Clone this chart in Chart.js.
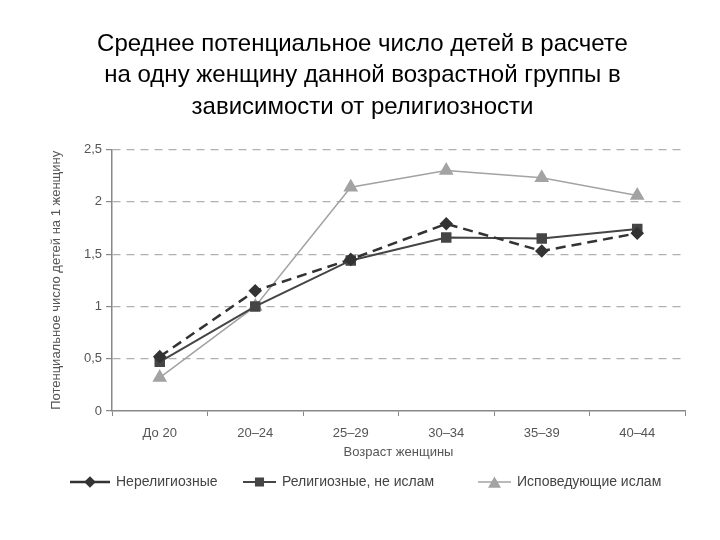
<!DOCTYPE html>
<html>
<head>
<meta charset="utf-8">
<script src="https://cdn.jsdelivr.net/npm/chart.js@4"></script>
<style>
    html, body { margin: 0; padding: 0; background: #fff; }
    #wrap { width: 720px; height: 540px; }
</style>
</head>
<body>
<div id="wrap"><canvas id="fertilityChart" width="720" height="540"></canvas></div>
<script>
const ageGroups = ["До 20", "20–24", "25–29", "30–34", "35–39", "40–44"];
const nonReligious = [0.52, 1.15, 1.45, 1.79, 1.53, 1.70];
const religiousNotIslam = [0.47, 1.0, 1.44, 1.66, 1.65, 1.74];
const islam = [0.32, 1.0, 2.14, 2.30, 2.23, 2.06];
const yTicks = [0, 0.5, 1, 1.5, 2, 2.5];

const narrowFont = "'Liberation Sans Narrow', 'Liberation Sans', Arial, sans-serif";

// legend drawn as line + marker, like the original figure
const lineLegend = {
    id: "lineLegend",
    afterDraw(chart) {
        const ctx = chart.ctx;
        const y = 482;
        const starts = [70, 243, 478];
        ctx.save();
        ctx.font = "14px " + narrowFont;
        ctx.textBaseline = "middle";
        chart.data.datasets.forEach((ds, i) => {
            const x0 = starts[i];
            const lineLen = i === 0 ? 40 : 33;
            ctx.strokeStyle = ds.borderColor;
            ctx.lineWidth = ds.borderWidth;
            ctx.setLineDash([]);
            ctx.beginPath();
            ctx.moveTo(x0, y);
            ctx.lineTo(x0 + lineLen, y);
            ctx.stroke();
            const my = ds.pointStyle === "triangle" ? y + 2 : y;
            Chart.helpers.drawPoint(ctx, {
                pointStyle: ds.pointStyle,
                radius: ds.pointRadius - 1,
                rotation: 0,
                borderWidth: 1
            }, x0 + lineLen / 2, my);
            ctx.fillStyle = ds.pointBackgroundColor;
            ctx.fill();
            ctx.fillStyle = "#444";
            ctx.fillText(ds.label, x0 + lineLen + 6, y);
        });
        ctx.restore();
    }
};

new Chart(document.getElementById("fertilityChart"), {
    type: "line",
    data: {
        labels: ageGroups,
        datasets: [{
            label: "Нерелигиозные",
            data: nonReligious,
            borderColor: "#333",
            backgroundColor: "#333",
            pointBackgroundColor: "#333",
            pointBorderColor: "#333",
            borderWidth: 2.5,
            borderDash: [10, 6],
            pointStyle: "rectRot",
            pointRadius: 5,
            tension: 0
        }, {
            label: "Религиозные, не ислам",
            data: religiousNotIslam,
            borderColor: "#454545",
            backgroundColor: "#454545",
            pointBackgroundColor: "#454545",
            pointBorderColor: "#454545",
            borderWidth: 2,
            pointStyle: "rect",
            pointRadius: 6,
            tension: 0
        }, {
            label: "Исповедующие ислам",
            data: islam,
            borderColor: "#a3a3a3",
            backgroundColor: "#a3a3a3",
            pointBackgroundColor: "#a3a3a3",
            pointBorderColor: "#a3a3a3",
            borderWidth: 1.5,
            pointStyle: "triangle",
            pointRadius: 7,
            tension: 0
        }]
    },
    options: {
        responsive: false,
        animation: false,
        layout: { padding: { left: 40, right: 35, bottom: 74 } },
        plugins: {
            legend: { display: false },
            tooltip: { enabled: false },
            title: {
                display: true,
                text: [
                    "Среднее потенциальное число детей в расчете",
                    "на одну женщину данной возрастной группы в",
                    "зависимости от религиозности"
                ],
                color: "#000",
                font: { family: "'Liberation Sans', Arial, sans-serif", size: 24, weight: "normal", lineHeight: 1.3 },
                padding: { top: 29, bottom: 27 }
            }
        },
        scales: {
            x: {
                offset: true,
                afterFit(scale) { scale.height = 55; },
                border: { color: "#888", width: 1.5 },
                grid: {
                    offset: true,
                    drawOnChartArea: false,
                    drawTicks: true,
                    tickLength: 5,
                    tickColor: "#888"
                },
                ticks: { color: "#555", font: { family: narrowFont, size: 13 }, padding: 10 },
                title: {
                    display: true,
                    text: "Возраст женщины",
                    color: "#555",
                    font: { family: narrowFont, size: 13 },
                    padding: { top: 0, bottom: 6 }
                }
            },
            y: {
                min: 0,
                max: 2.5,
                afterFit(scale) { scale.width = 72; },
                afterBuildTicks(scale) { scale.ticks = yTicks.map(v => ({ value: v })); },
                border: { color: "#888", width: 1.5, dash: [8, 6] },
                grid: {
                    color: ctx => ctx.tick && ctx.tick.value === 0 ? "rgba(0,0,0,0)" : "#b0b0b0",
                    lineWidth: 1.2,
                    drawTicks: true,
                    tickLength: 6,
                    tickColor: "#888",
                    tickBorderDash: []
                },
                ticks: {
                    color: "#555",
                    font: { family: narrowFont, size: 13 },
                    padding: 4,
                    callback: v => String(v).replace(".", ",")
                },
                title: {
                    display: true,
                    text: "Потенциальное число детей на 1 женщину",
                    color: "#555",
                    font: { family: narrowFont, size: 13 },
                    padding: { top: 9, bottom: 0 }
                }
            }
        }
    },
    plugins: [lineLegend]
});
</script>
</body>
</html>
